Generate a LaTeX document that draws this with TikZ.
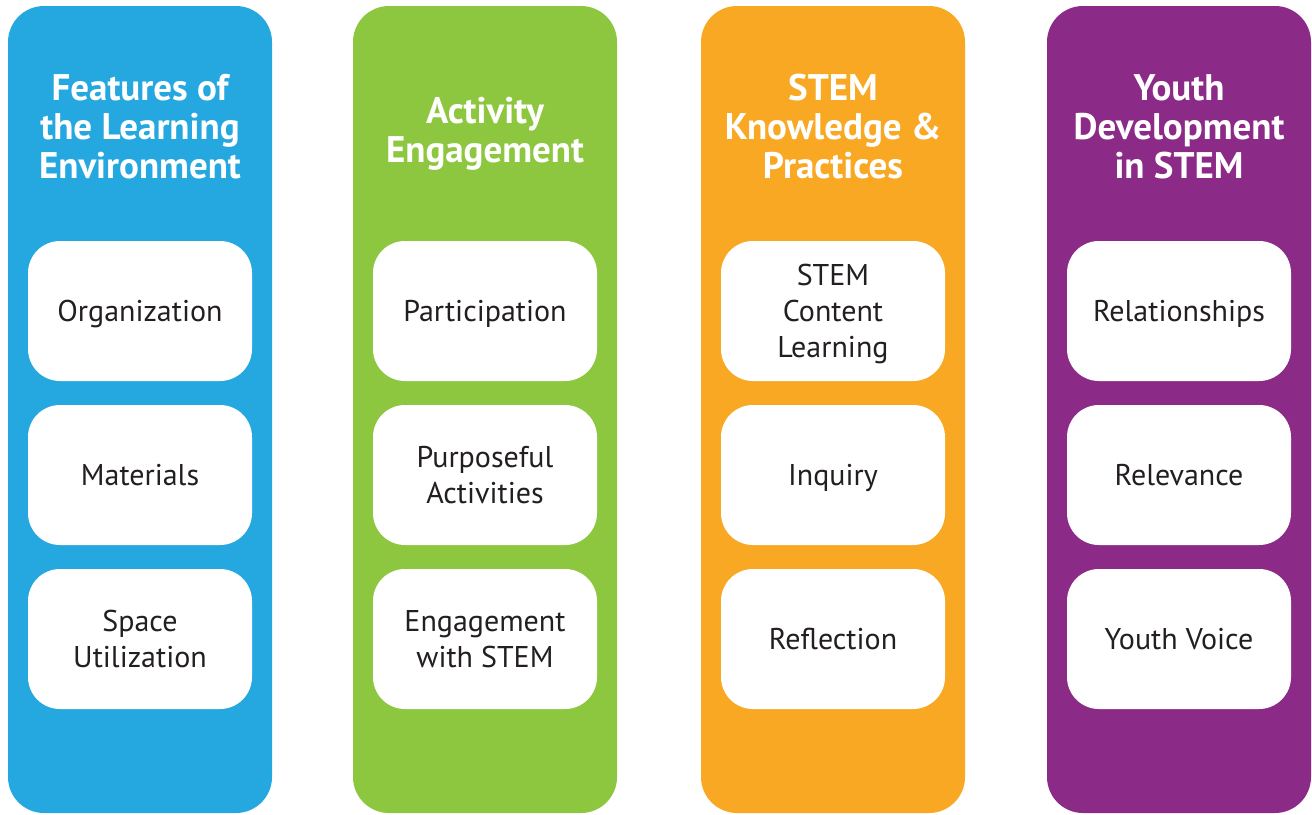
\documentclass[tikz,border=0pt]{standalone}
\usepackage{fontspec}
\setmainfont{PT Sans}
\definecolor{colblue}{HTML}{25A8E0}
\definecolor{colgreen}{HTML}{8DC63F}
\definecolor{colorange}{HTML}{F8A823}
\definecolor{colpurple}{HTML}{8C2A87}
\definecolor{boxtext}{HTML}{231F20}
\begin{document}
\begin{tikzpicture}[x=1pt, y=-1pt]
\newcommand{\colA}{140}
\newcommand{\colB}{485}
\newcommand{\colC}{833}
\newcommand{\colD}{1179}
\newcommand{\rowA}{311}
\newcommand{\rowB}{475}
\newcommand{\rowC}{639}

\tikzset{ column/.style={rounded corners=36pt, minimum width=264pt,
    minimum height=807pt, inner sep=0pt},
  heading/.style={text=white, align=center, font={\fontsize{37pt}{39pt}\bfseries\selectfont}},
  item/.style={fill=white, rounded corners=32pt, minimum width=224pt,
    minimum height=140pt, inner sep=0pt, text depth=0pt, align=center, text=boxtext,
    font={\fontsize{30pt}{36pt}\selectfont}}
}

\useasboundingbox (0,0) rectangle (1312,814);

\node[column, fill=colblue] (learnenv) at (\colA, 409.5) {};
\node[column, fill=colgreen] (engage) at (\colB, 409.5) {};
\node[column, fill=colorange] (stem) at (\colC, 409.5) {};
\node[column, fill=colpurple] (youth) at (\colD, 409.5) {};

\node[heading] (learnenvtitle) at (\colA, 127) {Features of\\the Learning\\Environment};
\node[heading] (engagetitle) at (\colB, 134) {Activity\\Engagement};
\node[heading] (stemtitle) at (\colC, 127) {STEM\\Knowledge \&\\Practices};
\node[heading] (youthtitle) at (\colD, 127) {Youth\\Development\\in STEM};

% white boxes, one row at a time
\node[item] (organization) at (\colA, \rowA) {Organization};
\node[item] (materials) at (\colA, \rowB) {Materials};
\node[item] (space) at (\colA, \rowC) {Space\\Utilization};

\node[item] (participation) at (\colB, \rowA) {Participation};
\node[item] (purposeful) at (\colB, \rowB) {Purposeful\\Activities};
\node[item] (engstem) at (\colB, \rowC) {Engagement\\with STEM};

\node[item] (content) at (\colC, \rowA) {STEM\\Content\\Learning};
\node[item] (inquiry) at (\colC, \rowB) {Inquiry};
\node[item] (reflection) at (\colC, \rowC) {Reflection};

\node[item] (relationships) at (\colD, \rowA) {Relationships};
\node[item] (relevance) at (\colD, \rowB) {Relevance};
\node[item] (voice) at (\colD, \rowC) {Youth Voice};

\end{tikzpicture}
\end{document}
